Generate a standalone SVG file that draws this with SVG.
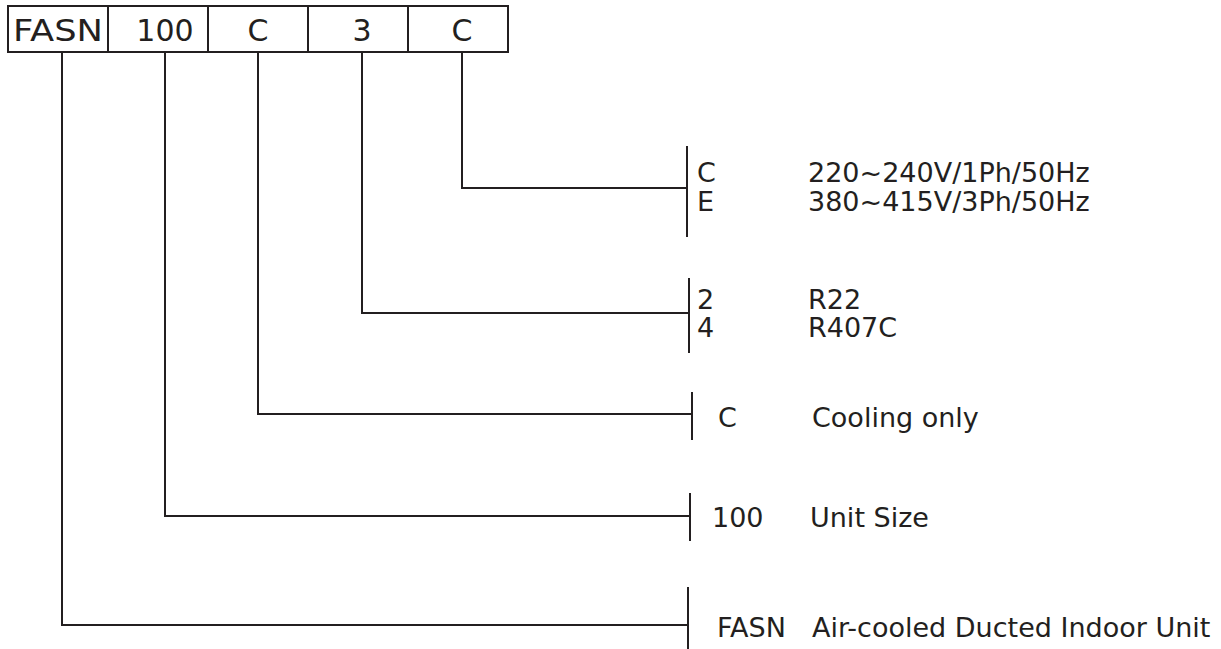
<svg xmlns="http://www.w3.org/2000/svg" width="1221" height="649" viewBox="0 0 1221 649">
<style>
.ln{stroke:#231f20;stroke-width:2;fill:none}
.bx{stroke:#231f20;stroke-width:2;fill:#fff}
.t{font-family:"DejaVu Sans","Liberation Sans",sans-serif;fill:#231f20}
.h{font-size:30px;text-anchor:middle}
.r{font-size:27px}
</style>
<rect width="1221" height="649" fill="#fff"/>
<g id="code">
<g id="box-fasn"><rect class="bx" x="8" y="6" width="100" height="46"/><text class="t h" x="58" y="41" textLength="90" lengthAdjust="spacingAndGlyphs">FASN</text></g>
<g id="box-100"><rect class="bx" x="108" y="6" width="100" height="46"/><text class="t h" x="165" y="41">100</text></g>
<g id="box-c1"><rect class="bx" x="208" y="6" width="100" height="46"/><text class="t h" x="258" y="41">C</text></g>
<g id="box-3"><rect class="bx" x="308" y="6" width="100" height="46"/><text class="t h" x="362" y="41">3</text></g>
<g id="box-c2"><rect class="bx" x="408" y="6" width="100" height="46"/><text class="t h" x="462" y="41">C</text></g>
</g>
<g id="connectors">
<polyline class="ln" points="462,52 462,188 687,188"/>
<line class="ln" x1="687" y1="146" x2="687" y2="237"/>
<polyline class="ln" points="362,52 362,313 689,313"/>
<line class="ln" x1="689" y1="278" x2="689" y2="353"/>
<polyline class="ln" points="258,52 258,414 692,414"/>
<line class="ln" x1="692" y1="392" x2="692" y2="440"/>
<polyline class="ln" points="165,52 165,516 690,516"/>
<line class="ln" x1="690" y1="493" x2="690" y2="541"/>
<polyline class="ln" points="62,52 62,625 688,625"/>
<line class="ln" x1="688" y1="587" x2="688" y2="649"/>
</g>
<g id="legend-power">
<text class="t r" x="697" y="182">C</text><text class="t r" x="808" y="182">220~240V/1Ph/50Hz</text>
<text class="t r" x="697" y="211">E</text><text class="t r" x="808" y="211">380~415V/3Ph/50Hz</text>
</g>
<g id="legend-refrigerant">
<text class="t r" x="697" y="309">2</text><text class="t r" x="808" y="309">R22</text>
<text class="t r" x="697" y="337">4</text><text class="t r" x="808" y="337">R407C</text>
</g>
<g id="legend-function">
<text class="t r" x="718" y="427">C</text><text class="t r" x="812" y="427">Cooling only</text>
</g>
<g id="legend-size">
<text class="t r" x="712" y="527">100</text><text class="t r" x="810" y="527">Unit Size</text>
</g>
<g id="legend-type">
<text class="t r" x="717" y="637">FASN</text><text class="t r" x="812" y="637">Air-cooled Ducted Indoor Unit</text>
</g>
</svg>
